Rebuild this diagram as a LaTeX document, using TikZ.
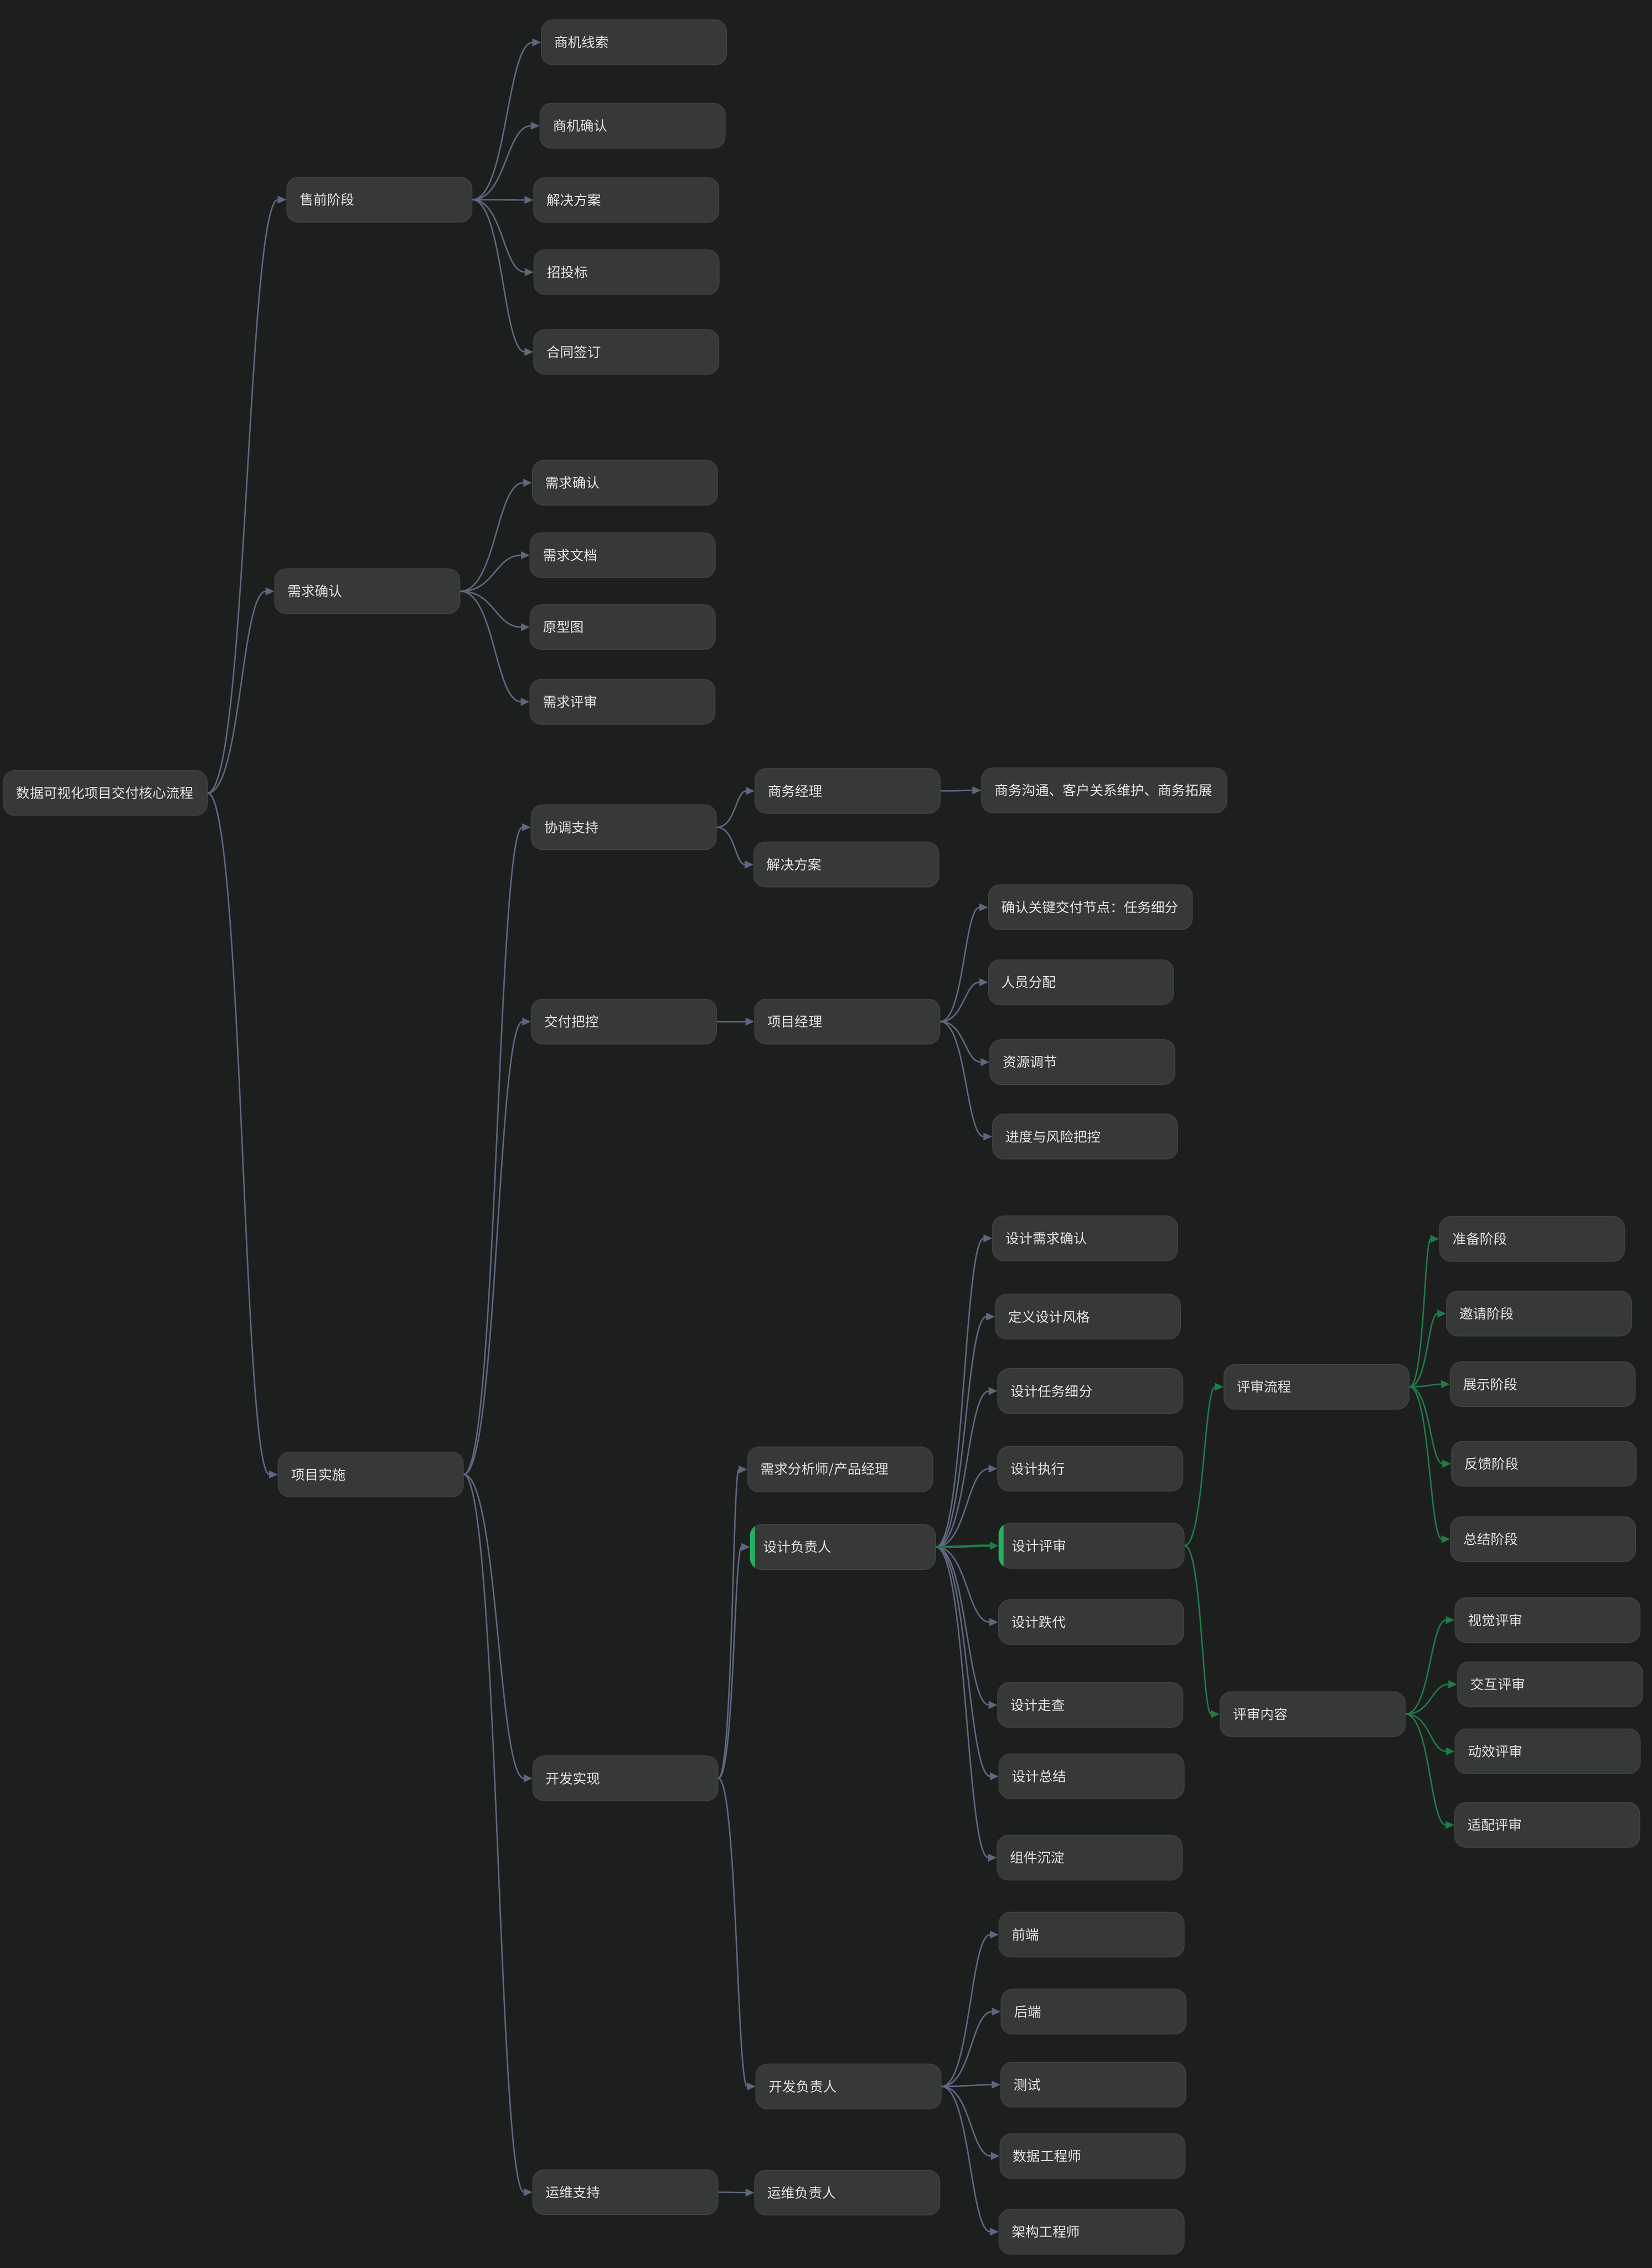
\documentclass[tikz,border=0pt]{standalone}
\usepackage{fontspec}
\setmainfont{Noto Sans CJK SC}
\usetikzlibrary{arrows.meta,calc}

\definecolor{bgc}{HTML}{1D1F1F}
\definecolor{cardc}{HTML}{373838}
\definecolor{edgec}{HTML}{414242}
\definecolor{linkc}{HTML}{5E6780}
\definecolor{treec}{HTML}{217A47}
\definecolor{barc}{HTML}{27AE60}
\definecolor{textc}{HTML}{E6E6E6}

\begin{document}
\begin{tikzpicture}[x=0.05cm,y=-0.05cm]

\tikzstyle{card} = [
	draw=edgec, line width=0.8pt, fill=cardc, rectangle, rounded corners=0.4cm,
	anchor=west, minimum height=1.55cm, inner xsep=0.45cm, inner ysep=0pt,
	text width=5.5cm, align=left, text=textc, font=\fontsize{13.4}{16}\selectfont ];
\tikzstyle{link} = [
	draw=linkc, line width=1.4pt, -{Triangle[length=0.3cm,width=0.26cm]},
	to path={let \p1=(\tikztostart), \p2=(\tikztotarget) in
		.. controls ({(\x1+\x2)/2},\y1) and ({(\x1+\x2)/2},\y2) .. (\tikztotarget)} ];
\tikzstyle{glink} = [link, draw=treec];
\fill[bgc] (0,0) rectangle (1142,1567.4);

% root and first level
\node[card, text width=6.15cm] (root) at (2,548) {数据可视化项目交付核心流程};
\node[card] (pre) at (198,138) {售前阶段};
\node[card] (req) at (189.6,408.6) {需求确认};
\node[card] (impl) at (192,1019) {项目实施};

% presales
\node[card] (pre1) at (374,29.3) {商机线索};
\node[card] (pre2) at (373,86.9) {商机确认};
\node[card] (pre3) at (368.6,138.2) {解决方案};
\node[card] (pre4) at (368.8,188.1) {招投标};
\node[card] (pre5) at (368.6,243.2) {合同签订};

% requirements
\node[card] (req1) at (367.7,333.6) {需求确认};
\node[card] (req2) at (366.2,383.7) {需求文档};
\node[card] (req3) at (366.2,433.4) {原型图};
\node[card] (req4) at (366,485) {需求评审};

% implementation
\node[card] (coord) at (366.9,571.7) {协调支持};
\node[card] (deliv) at (367,706) {交付把控};
\node[card] (dev) at (368,1229) {开发实现};
\node[card] (ops) at (368,1515) {运维支持};

\node[card] (bm) at (521.6,546.6) {商务经理};
\node[card] (sol) at (520.8,597.5) {解决方案};
\node[card, text width=7.58cm] (bmw) at (678.2,546.2) {商务沟通、客户关系维护、商务拓展};

\node[card] (pm) at (521.4,706) {项目经理};
\node[card, text width=6.15cm] (pm1) at (683,627) {确认关键交付节点：任务细分};
\node[card] (pm2) at (683,678.8) {人员分配};
\node[card] (pm3) at (683.9,734) {资源调节};
\node[card] (pm4) at (685.8,785.5) {进度与风险把控};

\node[card] (ana) at (516.5,1015.5) {需求分析师/产品经理};
\node[card] (dl) at (518.4,1069.1) {设计负责人};
\node[card] (dvl) at (522.3,1441.9) {开发负责人};
\node[card] (opl) at (521.4,1515.3) {运维负责人};

% design
\node[card] (d1) at (685.8,855.8) {设计需求确认};
\node[card] (d2) at (687.7,909.9) {定义设计风格};
\node[card] (d3) at (689.4,961.3) {设计任务细分};
\node[card] (d4) at (689.4,1015) {设计执行};
\node[card] (d5) at (690.3,1068.2) {设计评审};
\node[card] (d6) at (690,1121) {设计跌代};
\node[card] (d7) at (689.4,1178.3) {设计走查};
\node[card] (d8) at (690.3,1227.6) {设计总结};
\node[card] (d9) at (689,1283.8) {组件沉淀};

\node[card] (rf) at (845.8,958.4) {评审流程};
\node[card] (rc) at (843.1,1184.6) {评审内容};
\node[card] (rf1) at (994.8,856.2) {准备阶段};
\node[card] (rf2) at (999.6,907.8) {邀请阶段};
\node[card] (rf3) at (1002.2,956.6) {展示阶段};
\node[card] (rf4) at (1003,1011.6) {反馈阶段};
\node[card] (rf5) at (1002.4,1063.7) {总结阶段};
\node[card] (rc1) at (1005.5,1119.6) {视觉评审};
\node[card] (rc2) at (1007.3,1164) {交互评审};
\node[card] (rc3) at (1005.6,1210.3) {动效评审};
\node[card] (rc4) at (1005.3,1261.2) {适配评审};

% development
\node[card] (dv1) at (690.3,1337) {前端};
\node[card] (dv2) at (691.7,1390.2) {后端};
\node[card] (dv3) at (691.5,1440.7) {测试};
\node[card] (dv4) at (691,1490) {数据工程师};
\node[card] (dv5) at (690.3,1542.3) {架构工程师};

% highlight bars
\foreach \n in {dl,d5} {
	\begin{scope}
		\clip[rounded corners=0.4cm] (\n.south west) rectangle (\n.north east);
		\fill[barc] (\n.south west) rectangle ([xshift=0.17cm]\n.north west);
	\end{scope}
}

% connectors
\foreach \c in {pre,req,impl} \draw[link] (root.east) to (\c.west);
\foreach \c in {pre1,pre2,pre3,pre4,pre5} \draw[link] (pre.east) to (\c.west);
\foreach \c in {req1,req2,req3,req4} \draw[link] (req.east) to (\c.west);
\foreach \c in {coord,deliv,dev,ops} \draw[link] (impl.east) to (\c.west);
\foreach \c in {bm,sol} \draw[link] (coord.east) to (\c.west);
\draw[link] (bm.east) to (bmw.west);
\draw[link] (deliv.east) to (pm.west);
\foreach \c in {pm1,pm2,pm3,pm4} \draw[link] (pm.east) to (\c.west);
\foreach \c in {ana,dl,dvl} \draw[link] (dev.east) to (\c.west);
\draw[link] (ops.east) to (opl.west);
\foreach \c in {d1,d2,d3,d4,d6,d7,d8,d9} \draw[link] (dl.east) to (\c.west);
\foreach \c in {dv1,dv2,dv3,dv4,dv5} \draw[link] (dvl.east) to (\c.west);
\draw[glink, line width=2.4pt] (dl.east) to (d5.west);
\foreach \c in {rf,rc} \draw[glink] (d5.east) to (\c.west);
\foreach \c in {rf1,rf2,rf3,rf4,rf5} \draw[glink] (rf.east) to (\c.west);
\foreach \c in {rc1,rc2,rc3,rc4} \draw[glink] (rc.east) to (\c.west);

\end{tikzpicture}
\end{document}
